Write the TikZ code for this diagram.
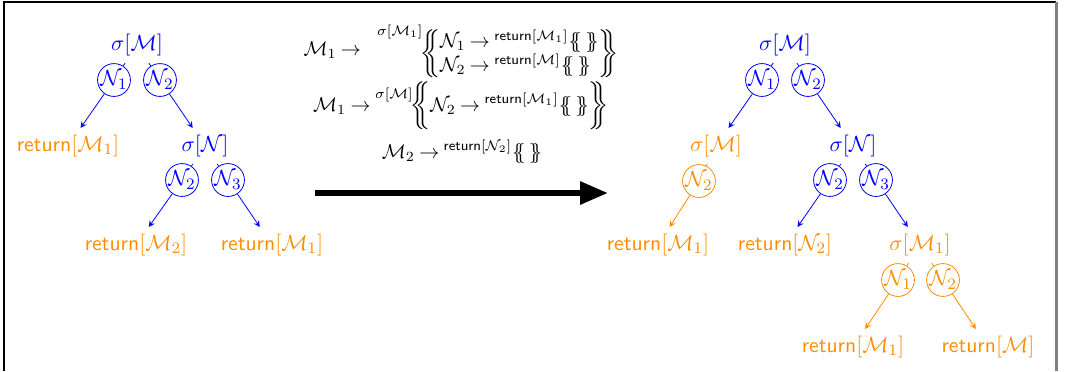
\documentclass[tikz,border=0pt]{standalone}
\usepackage{amsmath}
\usetikzlibrary{shapes,arrows,arrows.meta,positioning}
\definecolor{retorange}{RGB}{255,140,0}
\DeclareMathSizes{10}{10}{7.5}{5.5}
\newcommand{\formfont}{\fontsize{10}{12}\selectfont\thickmuskip=4mu\relax}
\tikzstyle{sigb}=[text=blue]
\tikzstyle{sigo}=[text=retorange]
\tikzstyle{ret}=[text=retorange]
\tikzstyle{chb}=[circle,draw=blue,text=blue,minimum size=16pt,inner sep=0pt]
\tikzstyle{cho}=[circle,draw=retorange,text=retorange,minimum size=16pt,inner sep=0pt]
\tikzstyle{arrb}=[-stealth,blue]
\tikzstyle{arro}=[-stealth,retorange]
\tikzstyle{tickb}=[blue]
\tikzstyle{ticko}=[retorange]
\tikzstyle{formula}=[anchor=base,font=\formfont]
\newcommand{\ret}[1]{\textsf{return}$[#1]$}
\newcommand{\dbr}[1]{\biggl\{\mskip-9mu\biggl\{#1\biggr\}\mskip-9mu\biggr\}}
\newcommand{\nil}{\{\mskip-6mu\{\,\}\mskip-6mu\}}
\newcommand{\pre}[2]{{\vphantom{#2}}^{#1}\mskip-3mu\dbr{#2}}
\renewcommand{\arraystretch}{0.85}

\begin{document}
\begin{tikzpicture}[x=0.5pt,y=-0.5pt,font=\fontsize{10.8}{13}\selectfont]
\useasboundingbox (0,0) rectangle (1068,371);
% frame
\draw[line width=1pt] (4,371) -- (4,2) -- (1056,2);
\draw[gray,line width=1.5pt] (1056,2) -- (1056,371);

% left tree
\node[sigb] (Lroot) at (137,45) {$\sigma[\mathcal{M}]$};
\node[chb] (La1) at (114,80) {$\mathcal{N}_1$};
\node[chb] (La2) at (160,80) {$\mathcal{N}_2$};
\node[ret] (Lr1) at (68,146) {\ret{\mathcal{M}_1}};
\node[sigb] (Lb) at (205,146) {$\sigma[\mathcal{N}]$};
\node[chb] (Lb1) at (182,180) {$\mathcal{N}_2$};
\node[chb] (Lb2) at (228,180) {$\mathcal{N}_3$};
\node[ret] (Lr2) at (136,245) {\ret{\mathcal{M}_2}};
\node[ret] (Lr3) at (272,245) {\ret{\mathcal{M}_1}};
\draw[tickb] (Lroot) -- (La1);
\draw[tickb] (Lroot) -- (La2);
\draw[tickb] (Lb) -- (Lb1);
\draw[tickb] (Lb) -- (Lb2);
\draw[arrb] (La1) -- (Lr1);
\draw[arrb] (La2) -- (Lb);
\draw[arrb] (Lb1) -- (Lr2);
\draw[arrb] (Lb2) -- (Lr3);

% rewriting rules
\node[formula,anchor=base east] (m1lhs) at (368,55) {$\mathcal{M}_1 \to$};
\node[formula,anchor=base west] (mline1) at (370,59) {$\pre{\sigma[\mathcal{M}_1]}{\begin{array}{@{}l@{}}\mathcal{N}_1 \to {}^{\mathsf{return}[\mathcal{M}_1]}\nil\\ \mathcal{N}_2 \to {}^{\mathsf{return}[\mathcal{M}]}\nil\end{array}}$};
\node[formula] (mline2) at (461,111) {$\mathcal{M}_1 \to \pre{\sigma[\mathcal{M}]}{\mathcal{N}_2 \to {}^{\mathsf{return}[\mathcal{M}_1]}\nil}$};
\node[formula] (mline3) at (462,158) {$\mathcal{M}_2 \to {}^{\mathsf{return}[\mathcal{N}_2]}\nil$};
\coordinate (ast) at (315,193);
\coordinate (aen) at (608,193);
\draw[line width=3pt,-{Triangle[length=14pt,width=11pt]}] (ast) -- (aen);

% right tree
\node[sigb] (Rroot) at (785,45) {$\sigma[\mathcal{M}]$};
\node[chb] (Ra1) at (762,80) {$\mathcal{N}_1$};
\node[chb] (Ra2) at (808,80) {$\mathcal{N}_2$};
\node[sigo] (Rb) at (716,146) {$\sigma[\mathcal{M}]$};
\node[cho] (Rb1) at (699,181) {$\mathcal{N}_2$};
\node[ret] (Rr1) at (658,245) {\ret{\mathcal{M}_1}};
\node[sigb] (Rc) at (853,146) {$\sigma[\mathcal{N}]$};
\node[chb] (Rc1) at (830,180) {$\mathcal{N}_2$};
\node[chb] (Rc2) at (876,180) {$\mathcal{N}_3$};
\node[ret] (Rr2) at (785,245) {\ret{\mathcal{N}_2}};
\node[sigo] (Rd) at (920,245) {$\sigma[\mathcal{M}_1]$};
\node[cho] (Rd1) at (898,280) {$\mathcal{N}_1$};
\node[cho] (Rd2) at (943,280) {$\mathcal{N}_2$};
\node[ret] (Rr3) at (853,347) {\ret{\mathcal{M}_1}};
\node[ret] (Rr4) at (988,347) {\ret{\mathcal{M}}};
\draw[tickb] (Rroot) -- (Ra1);
\draw[tickb] (Rroot) -- (Ra2);
\draw[ticko] (Rb) -- (Rb1);
\draw[tickb] (Rc) -- (Rc1);
\draw[tickb] (Rc) -- (Rc2);
\draw[ticko] (Rd) -- (Rd1);
\draw[ticko] (Rd) -- (Rd2);
\draw[arrb] (Ra1) -- (Rb);
\draw[arrb] (Ra2) -- (Rc);
\draw[arro] (Rb1) -- (Rr1);
\draw[arrb] (Rc1) -- (Rr2);
\draw[arrb] (Rc2) -- (Rd);
\draw[arro] (Rd1) -- (Rr3);
\draw[arro] (Rd2) -- (Rr4);
\end{tikzpicture}
\end{document}
